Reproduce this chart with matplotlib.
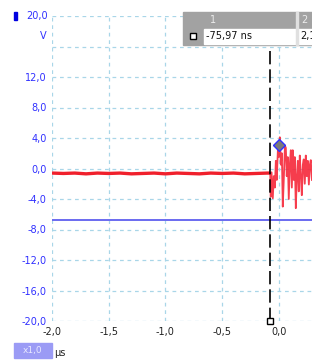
import matplotlib.pyplot as plt
from matplotlib.patches import Rectangle

# scope capture, time in microseconds, voltage in volts
flat_t = [-2.00, -1.90, -1.80, -1.70, -1.60, -1.50, -1.40, -1.30, -1.20, -1.10, -1.00,
          -0.90, -0.80, -0.70, -0.60, -0.50, -0.40, -0.30, -0.20, -0.10, -0.076]
flat_v = [-0.60, -0.65, -0.60, -0.70, -0.60, -0.65, -0.60, -0.70, -0.65, -0.60, -0.70,
          -0.60, -0.65, -0.70, -0.60, -0.65, -0.60, -0.70, -0.65, -0.60, -0.60]

burst_t = [-0.071, -0.064, -0.053, -0.044, -0.035, -0.026, -0.018, -0.008, 0.000, 0.009,
           0.018, 0.027, 0.035, 0.045, 0.054, 0.062, 0.070, 0.079, 0.088, 0.097,
           0.106, 0.115, 0.123, 0.132, 0.141, 0.150, 0.159, 0.168, 0.176, 0.185,
           0.194, 0.203, 0.212, 0.220, 0.229, 0.238, 0.247, 0.256, 0.265, 0.274, 0.282, 0.292]
burst_v = [-3.7, -0.5, -3.9, -1.0, -2.5, 1.0, -1.5, 2.5, 1.5, 4.1,
           0.5, 2.0, -5.0, -1.0, 3.0, 2.7, -1.0, 1.5, -4.0, 0.5,
           2.4, -2.5, 2.4, -1.5, 1.5, -5.2, -1.0, 1.0, -3.0, 1.7,
           -1.0, -3.5, 0.5, 1.2, -2.0, 1.7, -1.0, 1.0, -2.1, 0.5, 1.1, -1.5]

trigger_level = -6.75
cursor_t = -0.07597
marker_t, marker_v = 0.0, 3.1

x_ticks = [-2.0, -1.5, -1.0, -0.5, 0.0]
x_labels = ["-2,0", "-1,5", "-1,0", "-0,5", "0,0"]
y_ticks = [12, 8, 4, 0, -4, -8, -12, -16, -20]
y_labels = ["12,0", "8,0", "4,0", "0,0", "-4,0", "-8,0", "-12,0", "-16,0", "-20,0"]

W, H = 312, 360
fig = plt.figure(figsize=(W / 100, H / 100), dpi=100)

def px(x, y):
    return x / W, 1 - y / H

ax = fig.add_axes([52 / W, 39 / H, 260 / W, 305 / H])
ax.set_xlim(-2.0, -2.0 + 260 / 113.4)
ax.set_ylim(-20, 20)
for s in ax.spines.values():
    s.set_visible(False)

grid_kw = dict(color="#a9d6e8", lw=0.9, ls=(0, (3, 3)), zorder=1)
for gx in x_ticks:
    ax.axvline(gx, **grid_kw)
for gy in range(-20, 21, 4):
    ax.axhline(gy, **grid_kw)

ax.set_xticks(x_ticks)
ax.set_xticklabels(x_labels, fontsize=7, color="#222222")
ax.set_yticks(y_ticks)
ax.set_yticklabels(y_labels, fontsize=7, color="#3030ff")
ax.tick_params(length=0, pad=4)

ax.axhline(trigger_level, color="#6a6af0", lw=1.4, zorder=2)
ax.plot(flat_t, flat_v, color="#f0202c", lw=2.4, zorder=3, solid_capstyle="butt")
ax.plot([flat_t[-1]] + burst_t, [flat_v[-1]] + burst_v, color="#f5283a", lw=1.3,
        alpha=0.9, zorder=3)
ax.axvline(cursor_t, color="black", lw=1.2, ls=(0, (8, 3)), zorder=4)
ax.plot([cursor_t], [-20], marker="s", ms=5, mfc="white", mec="black", mew=1,
        clip_on=False, zorder=5)
ax.plot([marker_t], [marker_v], marker="D", ms=6.5, mfc="#7a7a7a", mec="#3030ff",
        mew=1, zorder=6)

# top label of the voltage axis sits beside the channel marker
fig.patches.append(Rectangle(px(14, 20), 3 / W, 8 / H, transform=fig.transFigure,
                             color="#0000e0"))
fig.text(*px(48, 16), "20,0", fontsize=7, color="#3030ff", ha="right", va="center")
fig.text(*px(47, 36), "V", fontsize=7, color="#3030ff", ha="right", va="center")

fig.patches.append(Rectangle(px(14, 358), 38 / W, 15 / H, transform=fig.transFigure,
                             color="#9b9bf5"))
fig.text(*px(33, 351), "x1,0", fontsize=6.5, color="#e8e8ff", ha="center", va="center")
fig.text(*px(54, 353), "µs", fontsize=7, color="#222222", ha="left", va="center")

# cursor readout table
fig.patches.append(Rectangle(px(183, 45), 129 / W, 33 / H, transform=fig.transFigure,
                             color="#a2a2a2", zorder=10))
fig.patches.append(Rectangle(px(204, 44), 92 / W, 15 / H, transform=fig.transFigure,
                             color="white", zorder=11))
fig.patches.append(Rectangle(px(298, 44), 14 / W, 15 / H, transform=fig.transFigure,
                             color="white", zorder=11))
fig.patches.append(Rectangle(px(296, 45), 2 / W, 33 / H, transform=fig.transFigure,
                             color="#e0e0e0", zorder=11))
fig.patches.append(Rectangle(px(190, 39), 6 / W, 6 / H, transform=fig.transFigure,
                             facecolor="white", edgecolor="black", lw=1, zorder=12))
fig.text(*px(210, 20), "1", fontsize=7, color="#ececec", ha="left", va="center", zorder=12)
fig.text(*px(301, 20), "2", fontsize=7, color="#ececec", ha="left", va="center", zorder=12)
fig.text(*px(206, 36), "-75,97 ns", fontsize=7, color="#111111", ha="left", va="center",
         zorder=12)
fig.text(*px(300, 36), "2,1", fontsize=7, color="#111111", ha="left", va="center",
         zorder=12)

fig.savefig("out.png", dpi=100, facecolor="white")
